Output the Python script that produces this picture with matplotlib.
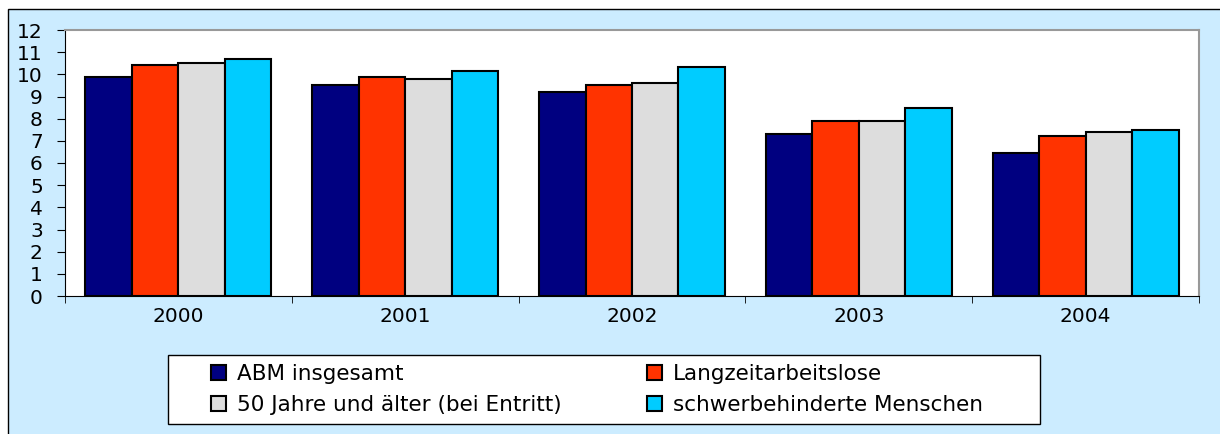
import matplotlib.pyplot as plt
import numpy as np
from matplotlib.patches import Rectangle

plt.rcParams["font.family"] = ["DejaVu Sans"]

years = ["2000", "2001", "2002", "2003", "2004"]
series = [
    "ABM insgesamt",
    "Langzeitarbeitslose",
    "50 Jahre und älter (bei Entritt)",
    "schwerbehinderte Menschen",
]
abm = [9.9, 9.5, 9.2, 7.3, 6.45]
langzeit = [10.4, 9.9, 9.5, 7.9, 7.2]
ueber50 = [10.5, 9.8, 9.6, 7.9, 7.4]
schwerbeh = [10.7, 10.15, 10.35, 8.5, 7.5]
colors = ["#000080", "#FF3300", "#DDDDDD", "#00CCFF"]

W, H = 1220, 434
fig = plt.figure(figsize=(W / 100, H / 100), dpi=100)
fig.patch.set_facecolor("white")

# light blue chart area with black frame
fig.patches.append(Rectangle((8 / W, -0.01), 1.02, (H - 9) / H + 0.01,
                             transform=fig.transFigure, facecolor="#CCECFF",
                             edgecolor="black", linewidth=1, zorder=-2))
# legend box
fig.patches.append(Rectangle((168 / W, 1 - 424 / H), (1040 - 168) / W, 69 / H,
                             transform=fig.transFigure, facecolor="white",
                             edgecolor="black", linewidth=1, zorder=1))

ax = fig.add_axes([65 / W, 1 - 296 / H, (1199 - 65) / W, (296 - 30) / H])
ax.set_facecolor("white")
ax.set_zorder(0)

x = np.arange(len(years))
bw = 0.205
data = [abm, langzeit, ueber50, schwerbeh]
handles = []
for i, (vals, c) in enumerate(zip(data, colors)):
    b = ax.bar(x + (i - 1.5) * bw, vals, bw, color=c, edgecolor="black",
               linewidth=1.5, label=series[i], zorder=3)
    handles.append(b)

ax.set_xlim(-0.5, len(years) - 0.5)
ax.set_ylim(0, 12)
ax.set_yticks(range(0, 13))
ax.tick_params(axis="y", labelsize=14.5, length=6, direction="out", pad=10)
ax.set_xticks(x)
ax.set_xticklabels(years)
ax.tick_params(axis="x", length=0, labelsize=14.5, pad=8)
ax.set_xticks(np.arange(-0.5, len(years), 1), minor=True)
ax.tick_params(axis="x", which="minor", length=5, direction="out")

for s in ["top", "right"]:
    ax.spines[s].set_color("#999999")
    ax.spines[s].set_linewidth(1.5)
for s in ["left", "bottom"]:
    ax.spines[s].set_color("black")

legend_kw = dict(frameon=False, fontsize=15.5, handlelength=0.7,
                 handleheight=0.7, handletextpad=0.5, labelspacing=0.5,
                 borderpad=0, borderaxespad=0, loc="center left")
leg1 = fig.legend(handles=[handles[0], handles[2]],
                  labels=[series[0], series[2]],
                  bbox_to_anchor=(211 / W, 1 - 389.5 / H), **legend_kw)
leg2 = fig.legend(handles=[handles[1], handles[3]],
                  labels=[series[1], series[3]],
                  bbox_to_anchor=(647 / W, 1 - 389.5 / H), **legend_kw)
leg1.set_zorder(5)
leg2.set_zorder(5)

fig.savefig("out.png", dpi=100, facecolor=fig.get_facecolor())
